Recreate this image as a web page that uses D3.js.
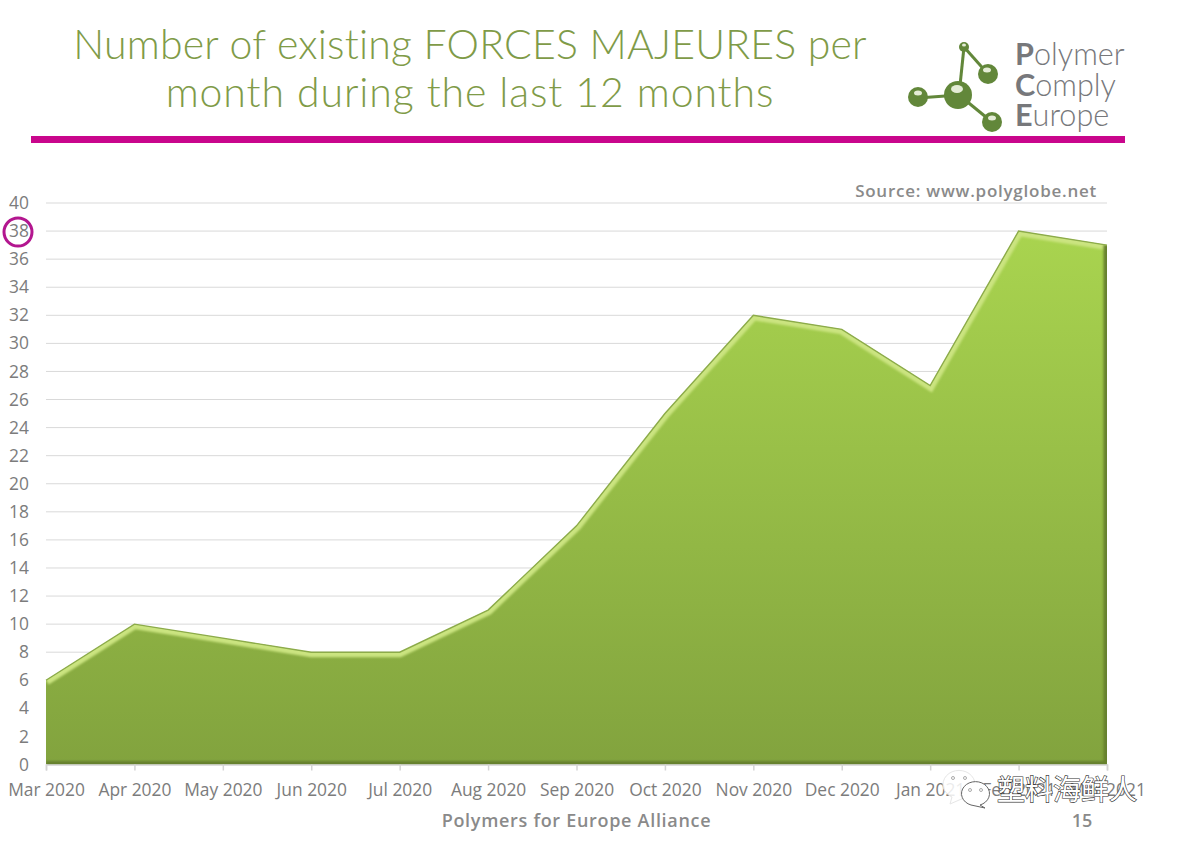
<!DOCTYPE html>
<html>
<head>
<meta charset="utf-8">
<script src="https://cdn.jsdelivr.net/npm/d3@7"></script>
<style>
html, body { margin: 0; padding: 0; background: #fff; }
svg { display: block; }
</style>
</head>
<body>
<svg id="chart"></svg>
<script>
var width = 1179,
    height = 842;

var months = ['Mar 2020', 'Apr 2020', 'May 2020', 'Jun 2020', 'Jul 2020', 'Aug 2020', 'Sep 2020',
    'Oct 2020', 'Nov 2020', 'Dec 2020', 'Jan 2021', 'Feb 2021', 'Mar 2021'];
var forces = [6, 10, 9, 8, 8, 11, 17, 25, 32, 31, 27, 38, 37];
var yTicks = d3.range(0, 41, 2);
var titleLines = ['Number of existing FORCES MAJEURES per', 'month during the last 12 months'];
var logoWords = [['P', 'olymer'], ['C', 'omply'], ['E', 'urope']];

var svg = d3.select('#chart')
    .attr('width', width)
    .attr('height', height)
    .style('font-family', '"Open Sans", sans-serif');

var x = d3.scalePoint().domain(months).range([46, 1107]);
var y = d3.scaleLinear().domain([0, 40]).range([764.5, 203]);

// header
svg.append('g').selectAll('text').data(titleLines).enter().append('text')
    .attr('x', 470)
    .attr('y', function (d, i) { return 59 + i * 48; })
    .attr('text-anchor', 'middle')
    .attr('fill', '#7f9b48')
    .style('font-family', 'Lato, sans-serif')
    .style('font-weight', 300)
    .style('font-size', '41px')
    .style('letter-spacing', function (d, i) { return i === 0 ? '0.2px' : '0.9px'; })
    .text(function (d) { return d; });

svg.append('rect').attr('x', 31).attr('y', 136).attr('width', 1094).attr('height', 7).attr('fill', '#c9068c');

// logo
var logo = svg.append('g').attr('class', 'logo');
logo.selectAll('line').data([[964, 47, 959, 95], [964, 47, 988, 74], [918, 98, 959, 95], [959, 95, 992, 122]])
    .enter().append('line')
    .attr('x1', function (d) { return d[0]; }).attr('y1', function (d) { return d[1]; })
    .attr('x2', function (d) { return d[2]; }).attr('y2', function (d) { return d[3]; })
    .attr('stroke', '#62873a').attr('stroke-width', 3);
logo.selectAll('circle.ball').data([[964, 47, 5], [988, 74, 10], [918, 97, 10], [958, 95, 14], [992, 122, 10]])
    .enter().append('circle').attr('class', 'ball')
    .attr('cx', function (d) { return d[0]; }).attr('cy', function (d) { return d[1]; }).attr('r', function (d) { return d[2]; })
    .attr('fill', '#62873a');
logo.selectAll('ellipse').data([[964, 45, 2, 1.5], [987, 70, 4, 2.5], [918, 93, 4, 2.5], [957, 89, 6, 4], [992, 118, 4, 2.5]])
    .enter().append('ellipse')
    .attr('cx', function (d) { return d[0]; }).attr('cy', function (d) { return d[1]; })
    .attr('rx', function (d) { return d[2]; }).attr('ry', function (d) { return d[3]; })
    .attr('fill', '#e4ecd6');
var logoText = logo.selectAll('text').data(logoWords).enter().append('text')
    .attr('x', 1015)
    .attr('y', function (d, i) { return 65 + i * 30.5; })
    .attr('fill', '#77787b')
    .style('font-family', 'Lato, sans-serif')
    .style('font-size', '30.6px');
logoText.append('tspan').style('font-weight', 700).text(function (d) { return d[0]; });
logoText.append('tspan').style('font-weight', 300).text(function (d) { return d[1]; });

// grid
svg.append('g').selectAll('line').data(yTicks.filter(function (d) { return d > 0; })).enter().append('line')
    .attr('x1', 46).attr('x2', 1107)
    .attr('y1', function (d) { return y(d); }).attr('y2', function (d) { return y(d); })
    .attr('stroke', '#d9d9d9').attr('stroke-width', 1);

// area
var defs = svg.append('defs');
var grad = defs.append('linearGradient').attr('id', 'areaFill')
    .attr('gradientUnits', 'userSpaceOnUse')
    .attr('x1', 0).attr('y1', y(38)).attr('x2', 0).attr('y2', y(0));
grad.append('stop').attr('offset', '0%').attr('stop-color', '#a9d44f');
grad.append('stop').attr('offset', '100%').attr('stop-color', '#82a33e');

// user space region, a straight line has an empty bounding box
defs.append('filter').attr('id', 'soft')
    .attr('filterUnits', 'userSpaceOnUse')
    .attr('x', 0).attr('y', 0).attr('width', width).attr('height', height)
    .append('feGaussianBlur').attr('stdDeviation', 1.2);

var area = d3.area()
    .x(function (d, i) { return x(months[i]); })
    .y0(y(0))
    .y1(function (d) { return y(d); });
var topLine = d3.line()
    .x(function (d, i) { return x(months[i]); })
    .y(function (d) { return y(d); });

defs.append('clipPath').attr('id', 'areaClip').append('path').attr('d', area(forces));

svg.append('path').attr('d', area(forces)).attr('fill', 'url(#areaFill)');

var bevel = svg.append('g').attr('clip-path', 'url(#areaClip)');
bevel.append('path').attr('d', topLine(forces))
    .attr('fill', 'none').attr('stroke', '#cbe480').attr('stroke-width', 10)
    .attr('filter', 'url(#soft)');
bevel.append('line').attr('x1', 1107).attr('x2', 1107).attr('y1', y(37)).attr('y2', y(0))
    .attr('stroke', '#66812f').attr('stroke-width', 7)
    .attr('filter', 'url(#soft)');
bevel.append('line').attr('x1', 46).attr('x2', 1107).attr('y1', y(0)).attr('y2', y(0))
    .attr('stroke', '#66812f').attr('stroke-width', 7)
    .attr('filter', 'url(#soft)');
svg.append('path').attr('d', topLine(forces))
    .attr('fill', 'none').attr('stroke', '#8cab4a').attr('stroke-width', 1.4);

// axes
var xAxis = d3.axisBottom(x).tickSize(6).tickPadding(13);
var xG = svg.append('g').attr('transform', 'translate(0,' + y(0) + ')').call(xAxis);
xG.select('.domain').attr('stroke', '#d4d4d4').attr('stroke-width', 1.5);
xG.selectAll('.tick line').attr('stroke', '#d4d4d4').attr('stroke-width', 1.5);
xG.selectAll('text').attr('fill', '#7c7c7c').style('font-size', '17.4px').style('font-family', '"Open Sans", sans-serif');

var yAxis = d3.axisLeft(y).tickValues(yTicks).tickSize(0).tickPadding(17);
var yG = svg.append('g').attr('transform', 'translate(46,0)').call(yAxis);
yG.select('.domain').remove();
yG.selectAll('text').attr('fill', '#7c7c7c').style('font-size', '17.4px').style('font-family', '"Open Sans", sans-serif');

// highlight ring on the peak value
svg.append('circle')
    .attr('cx', 18).attr('cy', y(d3.max(forces)) + 1)
    .attr('r', 14).attr('fill', 'none').attr('stroke', '#b3168f').attr('stroke-width', 3);

// notes
svg.append('text').attr('x', 1097).attr('y', 197).attr('text-anchor', 'end')
    .attr('fill', '#8a8a8a').style('font-size', '17px').style('font-weight', 600).style('letter-spacing', '0.75px')
    .text('Source: www.polyglobe.net');
svg.append('text').attr('x', 576.5).attr('y', 827).attr('text-anchor', 'middle')
    .attr('fill', '#8a8a8a').style('font-size', '18px').style('font-weight', 600).style('letter-spacing', '0.7px')
    .text('Polymers for Europe Alliance');
svg.append('text').attr('x', 1082).attr('y', 827).attr('text-anchor', 'middle')
    .attr('fill', '#8a8a8a').style('font-size', '18px').style('font-weight', 600)
    .text('15');

// watermark
var mark = svg.append('g');
mark.append('path')
    .attr('d', 'M952 797 A16 14 0 1 1 966 797 L950 804 Z')
    .attr('fill', '#fff').attr('fill-opacity', 0.85).attr('stroke', '#e6e6e6').attr('stroke-width', 1);
mark.append('path')
    .attr('d', 'M980 805 A14 12 0 1 0 971 805 L985 808 Z')
    .attr('fill', '#fff').attr('stroke', '#666').attr('stroke-width', 1);
mark.selectAll('circle').data([[953, 778], [965, 778], [970, 790], [981, 790]]).enter().append('circle')
    .attr('cx', function (d) { return d[0]; }).attr('cy', function (d) { return d[1]; })
    .attr('r', 1.5).attr('fill', '#fff').attr('stroke', '#888').attr('stroke-width', 0.7);
mark.append('text').attr('x', 997).attr('y', 800)
    .attr('fill', '#fff').attr('stroke', '#333').attr('stroke-width', 1.2)
    .style('paint-order', 'stroke')
    .style('font-family', '"Noto Sans CJK SC"').style('font-size', '28px')
    .text('塑料海鲜人');
</script>
</body>
</html>
